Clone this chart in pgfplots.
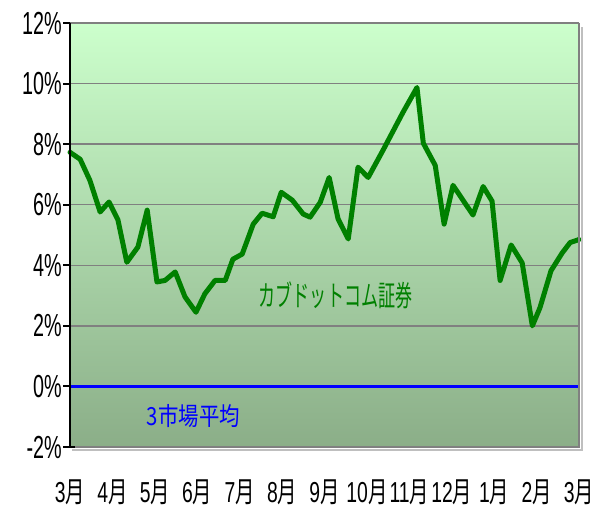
\documentclass[border=0pt]{standalone}
\usepackage{pgfplots}
\pgfplotsset{compat=1.18}
\usepackage{fontspec}
\setmainfont{Liberation Sans}
\newfontfamily\jp{Noto Sans CJK JP}
\definecolor{lg}{HTML}{008000}
\definecolor{bgtop}{HTML}{CCFFCC}
\definecolor{bgbot}{HTML}{8BAE88}
\newcommand{\yl}[1]{\scalebox{0.62}[1]{\fontsize{32}{36}\selectfont #1}}
\newcommand{\ml}[1]{\scalebox{0.67}[1]{\fontsize{29}{32}\selectfont #1{\jp 月}}}
\begin{document}
\begin{tikzpicture}
\path[use as bounding box] (-70bp,-60bp) rectangle (523bp,447bp);
\begin{axis}[
  at={(0,0)}, anchor=south west,
  scale only axis, width=509bp, height=424bp,
  xmin=0, xmax=12, ymin=-2, ymax=12,
  axis line style={draw=none},
  xtick={0,...,12},
  xticklabels={\ml{3},\ml{4},\ml{5},\ml{6},\ml{7},\ml{8},\ml{9},\ml{10},\ml{11},\ml{12},\ml{1},\ml{2},\ml{3}},
  xtick style={draw=none},
  xticklabel style={anchor=center, inner sep=0pt, yshift=-38bp},
  ytick={-2,0,2,4,6,8,10,12},
  yticklabels={\yl{-2\%},\yl{0\%},\yl{2\%},\yl{4\%},\yl{6\%},\yl{8\%},\yl{10\%},\yl{12\%}},
  ytick pos=left,
  tick align=outside,
  major tick length=7bp,
  ytick style={black, line width=2bp},
  yticklabel style={anchor=east, inner sep=0pt, xshift=-1bp},
  ymajorgrids,
  grid style={draw=gray, line width=1.5bp},
  axis background/.style={top color=bgtop, bottom color=bgbot},
  clip=false,
]
\addplot[blue, line width=2.5bp] coordinates {(0,0) (12,0)};
\addplot[lg, line width=5bp, line join=round, line cap=round] coordinates {
(0,7.73) (0.24,7.5) (0.47,6.8) (0.71,5.76) (0.92,6.09) (1.13,5.5) (1.34,4.1)
(1.60,4.6) (1.82,5.82) (2.05,3.45) (2.24,3.5) (2.48,3.78) (2.71,2.96) (2.97,2.45)
(3.18,3.06) (3.42,3.5) (3.66,3.5) (3.84,4.2) (4.06,4.37) (4.32,5.36) (4.53,5.72)
(4.79,5.6) (4.98,6.41) (5.24,6.15) (5.50,5.69) (5.66,5.59) (5.90,6.08) (6.11,6.9)
(6.32,5.53) (6.56,4.87) (6.79,7.24) (7.03,6.9) (7.38,7.8) (7.85,9.05) (8.18,9.87)
(8.33,8.03) (8.61,7.3) (8.82,5.36) (9.03,6.64) (9.50,5.66) (9.74,6.6) (9.95,6.12)
(10.14,3.5) (10.40,4.67) (10.66,4.08) (10.90,2.0) (11.08,2.6) (11.34,3.82)
(11.60,4.4) (11.79,4.75) (12.0,4.85)
};
\node[lg, inner sep=0pt] at (axis cs:6.26,3.0) {\scalebox{0.59}[1]{\fontsize{29}{32}\selectfont\jp カブドットコム証券}};
\node[blue, inner sep=0pt] at (axis cs:2.91,-0.99) {\scalebox{0.82}[1]{\fontsize{25}{28}\selectfont\jp 3市場平均}};
\draw[black!25, line width=2bp] ([xshift=2.5bp]rel axis cs:1,0.99) -- ([xshift=2.5bp,yshift=-2.5bp]rel axis cs:1,0) -- ([xshift=2bp,yshift=-2.5bp]rel axis cs:0,0);
\draw[gray, line width=2bp] (rel axis cs:1,1) -- (rel axis cs:1,0) -- (rel axis cs:0,0);
\draw[black, line width=2.5bp] (rel axis cs:0,1) -- (rel axis cs:0,0) -- ([xshift=5bp]rel axis cs:0,0);
\end{axis}
\end{tikzpicture}
\end{document}
